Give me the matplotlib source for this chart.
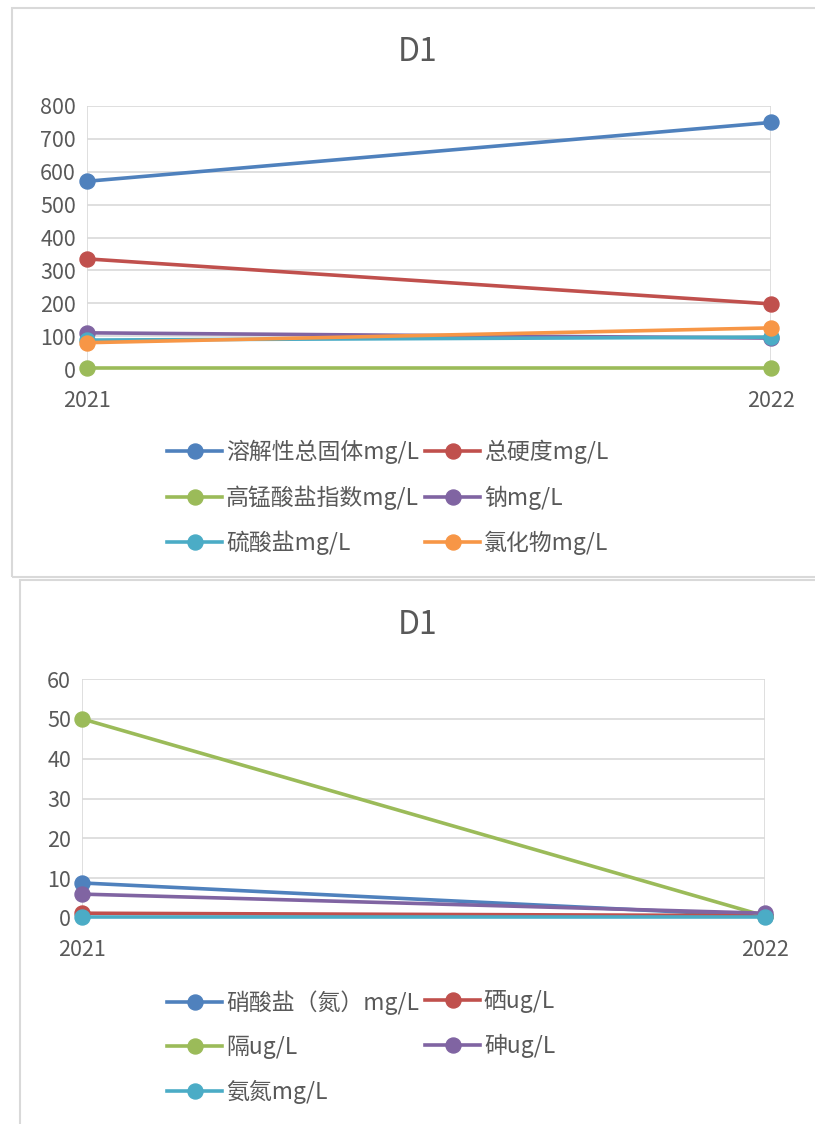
import matplotlib
matplotlib.use("Agg")
import matplotlib.pyplot as plt
from matplotlib.patches import Rectangle

plt.rcParams['font.family'] = ['Noto Sans CJK SC', 'DejaVu Sans']

years = [2021, 2022]

# 上图
top_names = ['溶解性总固体mg/L', '总硬度mg/L', '高锰酸盐指数mg/L', '钠mg/L', '硫酸盐mg/L', '氯化物mg/L']
top_vals = [
    [571, 750],
    [335, 198],
    [2, 2],
    [110, 94],
    [88, 97],
    [80, 125],
]

# 下图
bot_names = ['硝酸盐（氮）mg/L', '硒ug/L', '隔ug/L', '砷ug/L', '氨氮mg/L']
bot_vals = [
    [8.8, 0.5],
    [1.2, 0.6],
    [50, 0.5],
    [6.0, 1.2],
    [0.2, 0.2],
]

colors = ['#4F81BD', '#C0504D', '#9BBB59', '#8064A2', '#4BACC6', '#F79646']
W, H = 815, 1124
grey = '#595959'
grid = '#d9d9d9'

fig = plt.figure(figsize=(W / 100, H / 100), dpi=100)


def px_axes(x0, y0, x1, y1):
    return fig.add_axes([x0 / W, 1 - y1 / H, (x1 - x0) / W, (y1 - y0) / H])


def draw_chart(box, area, title_y, names, vals, ymax, step, leg_y):
    # 外框
    bx0, by0, bx1, by1 = box
    fig.patches.append(Rectangle((bx0 / W, 1 - by1 / H), (bx1 - bx0) / W, (by1 - by0) / H,
                                 transform=fig.transFigure, fill=False,
                                 edgecolor=grid, lw=1.5))
    ax = px_axes(*area)
    handles = []
    for i, (n, v) in enumerate(zip(names, vals)):
        h, = ax.plot(years, v, color=colors[i], lw=2.6, marker='o', ms=10.8,
                     label=n, clip_on=False, zorder=3)
        handles.append(h)
    ax.set_xlim(years[0], years[-1])
    ax.set_ylim(0, ymax)
    ax.set_yticks(range(0, ymax + 1, step))
    ax.set_xticks(years)
    ax.set_xticklabels([str(y) for y in years])
    for s in ax.spines.values():
        s.set_visible(False)
    ax.grid(True, color=grid, lw=1.2)
    ax.set_axisbelow(True)
    ax.tick_params(length=0, labelsize=15.5, colors=grey, pad=8)
    ax.tick_params(axis='x', pad=15)
    fig.text(418 / W, 1 - title_y / H, 'D1',
             ha='center', va='center', fontsize=23, color=grey)
    # 图例：两列，按行排列
    for col, x0 in enumerate([167, 425]):
        idx = list(range(col, len(handles), 2))
        leg = fig.legend([handles[k] for k in idx], [names[k] for k in idx],
                         loc='upper left', bbox_to_anchor=(x0 / W, 1 - leg_y / H),
                         frameon=False, fontsize=16.5, handlelength=2.4,
                         handletextpad=0.17, labelspacing=0.92,
                         borderpad=0, borderaxespad=0)
        for t in leg.get_texts():
            t.set_color(grey)
    return ax


draw_chart((12, 8, 830, 577), (87, 106, 771, 369), 52, top_names, top_vals, 800, 100, 440)
draw_chart((20, 580, 830, 1140), (82, 679, 765, 918), 625, bot_names, bot_vals, 60, 10, 990)

fig.savefig('out.png', dpi=100)
